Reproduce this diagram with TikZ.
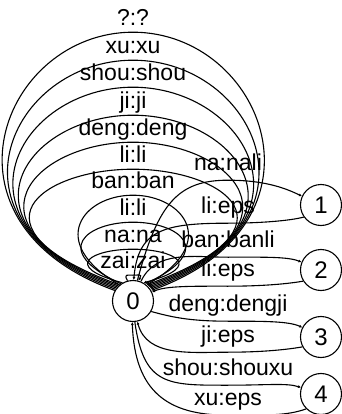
\documentclass[tikz,border=0pt]{standalone}
\usepackage{fontspec}
\setmainfont{Liberation Sans}
\usetikzlibrary{arrows.meta}

\begin{document}
\begin{tikzpicture}[x=0.5pt, y=0.5pt, every node/.style={font=\fontsize{11.5}{13}\selectfont}]
	\useasboundingbox (0,0) rectangle (342,414);
	\tikzstyle{state} = [
		circle, draw=black, line width=0.55pt, minimum size=20.5pt, inner sep=0pt,
		font=\fontsize{12}{14}\selectfont
	]
	\tikzstyle{caption} = [
		inner xsep=0pt, inner ysep=0.6pt, text height=8.2pt, text depth=2.4pt
	]
	\tikzstyle{caption_edge} = [
		caption, inner ysep=2.1pt
	]
	\tikzstyle{conn} = [
		line width=0.55pt, -{Latex[length=1.5pt,width=1.5pt]}
	]

	% States
	\node (S0) [state] at (133,113) {0};
	\node (S1) [state] at (321,209) {1};
	\node (S2) [state] at (321,144) {2};
	\node (S3) [state] at (321,77) {3};
	\node (S4) [state] at (321,20) {4};

	% Captions of the loops on 0
	\node (loop_any) [caption] at (133,394) {?:?};
	\node (loop_xu) [caption] at (133,366) {xu:xu};
	\node (loop_shou) [caption] at (133,339) {shou:shou};
	\node (loop_ji) [caption] at (133,311) {ji:ji};
	\node (loop_deng) [caption] at (133,284) {deng:deng};
	\node (loop_li) [caption] at (133,257) {li:li};
	\node (loop_ban) [caption] at (133,231) {ban:ban};
	\node (loop_li_in) [caption] at (133,204) {li:li};
	\node (loop_na) [caption] at (133,177) {na:na};
	\node (loop_zai) [caption] at (133,151) {zai:zai};

	% Captions of the edges to the right
	\node (na_nali) [caption_edge] at (228,249) {na:nali};
	\node (li_eps1) [caption_edge] at (228,206) {li:eps};
	\node (ban_banli) [caption_edge] at (228,172) {ban:banli};
	\node (li_eps2) [caption_edge] at (228,143) {li:eps};
	\node (deng_dengji) [caption_edge] at (228,108) {deng:dengji};
	\node (ji_eps) [caption_edge] at (228,77) {ji:eps};
	\node (shou_shouxu) [caption_edge] at (228,44) {shou:shouxu};
	\node (xu_eps) [caption_edge] at (228,14) {xu:eps};

	% Loops on 0, wide ones
	\draw[conn] (S0.150) .. controls +(160:200) and +(-130,0) .. (loop_any.south) .. controls +(130,0) and +(20:200) .. (S0.30);
	\draw[conn] (S0.146) .. controls +(160:194) and +(-122,0) .. (loop_xu.south) .. controls +(122,0) and +(20:194) .. (S0.34);
	\draw[conn] (S0.142) .. controls +(160:188) and +(-114,0) .. (loop_shou.south) .. controls +(114,0) and +(20:188) .. (S0.38);
	\draw[conn] (S0.138) .. controls +(160:182) and +(-106,0) .. (loop_ji.south) .. controls +(106,0) and +(20:182) .. (S0.42);
	\draw[conn] (S0.134) .. controls +(160:176) and +(-98,0) .. (loop_deng.south) .. controls +(98,0) and +(20:176) .. (S0.46);
	\draw[conn] (S0.130) .. controls +(160:170) and +(-90,0) .. (loop_li.south) .. controls +(90,0) and +(20:170) .. (S0.50);
	% Loops on 0, small ones
	\draw[conn] (S0.130) .. controls +(150:85) and +(-50,0) .. (loop_ban.south) .. controls +(50,0) and +(30:85) .. (S0.50);
	\draw[conn] (S0.125) .. controls +(155:80) and +(-45,0) .. (loop_li_in.south) .. controls +(45,0) and +(25:80) .. (S0.55);
	\draw[conn] (S0.120) .. controls +(165:65) and +(-40,0) .. (loop_na.south) .. controls +(40,0) and +(15:65) .. (S0.60);
	\draw[conn] (S0.105) .. controls +(120:8) and +(-6,0) .. (loop_zai.south) .. controls +(6,0) and +(60:8) .. (S0.75);

	% 0 <-> 1
	\draw[conn] (S0.78) .. controls +(75:80) and +(-50,0) .. (na_nali.south) .. controls +(40,0) and +(155:15) .. (S1.155);
	\draw[conn] (S1.215) .. controls +(195:15) and +(30,0) .. (li_eps1.south) .. controls +(-65,0) and +(85:50) .. (S0.88);
	% 0 <-> 2
	\draw[conn] (S0.68) .. controls +(65:35) and +(-35,0) .. (ban_banli.south) .. controls +(35,0) and +(158:15) .. (S2.158);
	\draw[conn] (S2.212) .. controls +(190:15) and +(35,0) .. (li_eps2.south) .. controls +(-35,0) and +(25:15) .. (S0.25);
	% 0 <-> 3
	\draw[conn] (S0.330) .. controls +(-15:20) and +(-40,0) .. (deng_dengji.south) .. controls +(35,0) and +(155:15) .. (S3.153);
	\draw[conn] (S3.208) .. controls +(190:15) and +(35,0) .. (ji_eps.south) .. controls +(-37,0) and +(-75:37) .. (S0.-78);
	% 0 <-> 4
	\draw[conn] (S0.-85) .. controls +(-82:65) and +(-60,0) .. (shou_shouxu.south) .. controls +(40,0) and +(162:15) .. (S4.162);
	\draw[conn] (S4.225) .. controls +(200:20) and +(40,0) .. (xu_eps.south) .. controls +(-60,0) and +(-88:70) .. (S0.-92);

\end{tikzpicture}
\end{document}
